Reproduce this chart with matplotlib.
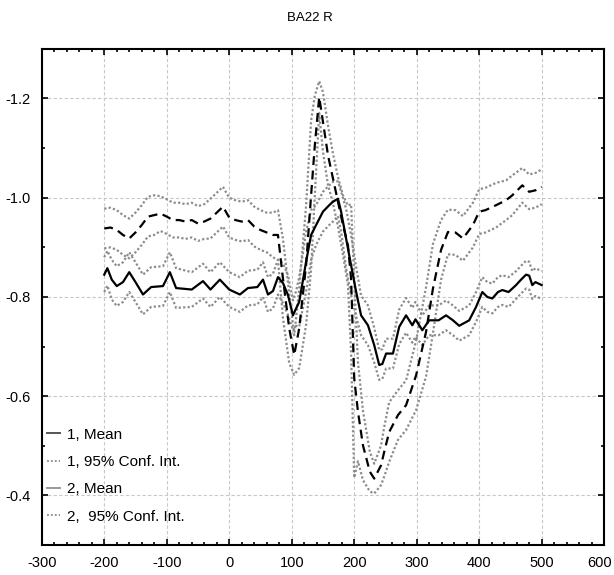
import numpy as np
import matplotlib
matplotlib.use("Agg")
import matplotlib.pyplot as plt
import matplotlib.transforms as mtransforms
from matplotlib.lines import Line2D
from matplotlib.ticker import MultipleLocator

# group 1 (solid): time (ms), mean, half width of 95% CI
x1 = [-200, -195, -188, -180, -170, -160, -150, -138, -125, -106, -95, -85, -60, -42,
      -30, -15, 0, 17, 30, 45, 54, 62, 70, 78, 86, 94, 102, 107, 112, 123, 131, 139,
      150, 160, 166, 174, 179, 187, 195, 203, 211, 222, 232, 240, 245, 251, 262, 272,
      283, 293, 298, 309, 320, 335, 347, 358, 368, 384, 395, 405, 413, 421, 430, 437,
      447, 459, 467, 475, 480, 485, 490, 500]
mean1 = [-0.845, -0.858, -0.835, -0.822, -0.830, -0.850, -0.830, -0.805, -0.820, -0.822,
         -0.850, -0.818, -0.815, -0.832, -0.815, -0.835, -0.815, -0.805, -0.818, -0.820,
         -0.835, -0.805, -0.812, -0.840, -0.828, -0.804, -0.763, -0.777, -0.790, -0.871,
         -0.925, -0.945, -0.972, -0.985, -0.992, -0.998, -0.972, -0.918, -0.864, -0.811,
         -0.763, -0.743, -0.703, -0.663, -0.665, -0.686, -0.686, -0.740, -0.763, -0.743,
         -0.755, -0.733, -0.753, -0.753, -0.763, -0.753, -0.742, -0.753, -0.780, -0.810,
         -0.800, -0.797, -0.810, -0.814, -0.810, -0.824, -0.835, -0.845, -0.843, -0.824,
         -0.830, -0.824]
ci1 = [0.035, 0.035, 0.04, 0.04, 0.04, 0.04, 0.04, 0.04, 0.04, 0.04, 0.04, 0.04, 0.035,
       0.035, 0.035, 0.035, 0.035, 0.035, 0.035, 0.035, 0.035, 0.035, 0.035, 0.035, 0.04,
       0.04, 0.03, 0.035, 0.05, 0.06, 0.05, 0.04, 0.04, 0.04, 0.04, 0.035, 0.04, 0.06,
       0.06, 0.05, 0.04, 0.04, 0.035, 0.03, 0.03, 0.03, 0.03, 0.035, 0.035, 0.035, 0.035,
       0.03, 0.03, 0.03, 0.03, 0.03, 0.03, 0.03, 0.03, 0.03, 0.03, 0.03, 0.03, 0.03,
       0.03, 0.028, 0.028, 0.028, 0.028, 0.028, 0.028, 0.028]

# group 2 (dashed)
x2 = [-200, -190, -180, -170, -160, -150, -140, -130, -120, -110, -100, -90, -80, -70,
      -60, -50, -40, -30, -20, -10, 0, 10, 20, 30, 40, 50, 60, 70, 78, 86, 96, 104, 112,
      123, 131, 137, 144, 150, 158, 166, 174, 182, 190, 195, 200, 206, 214, 225, 232,
      243, 248, 256, 270, 283, 299, 315, 326, 339, 350, 362, 374, 390, 400, 410, 427,
      443, 453, 469, 480, 490, 500]
mean2 = [-0.938, -0.940, -0.935, -0.925, -0.918, -0.930, -0.945, -0.962, -0.965, -0.968,
         -0.962, -0.955, -0.955, -0.952, -0.955, -0.948, -0.952, -0.958, -0.970, -0.982,
         -0.960, -0.955, -0.952, -0.955, -0.942, -0.935, -0.930, -0.925, -0.925, -0.837,
         -0.737, -0.683, -0.737, -0.864, -1.005, -1.106, -1.203, -1.153, -1.086, -1.039,
         -0.992, -0.945, -0.904, -0.837, -0.636, -0.569, -0.501, -0.448, -0.434, -0.461,
         -0.488, -0.528, -0.562, -0.582, -0.642, -0.730, -0.817, -0.895, -0.931, -0.930,
         -0.918, -0.945, -0.972, -0.975, -0.985, -0.995, -1.005, -1.025, -1.012, -1.015,
         -1.022]
ci2 = [0.04, 0.04, 0.04, 0.04, 0.04, 0.04, 0.04, 0.04, 0.04, 0.035, 0.035, 0.035, 0.035,
       0.035, 0.035, 0.035, 0.035, 0.04, 0.04, 0.04, 0.04, 0.04, 0.04, 0.04, 0.04, 0.04,
       0.04, 0.045, 0.05, 0.08, 0.07, 0.04, 0.08, 0.12, 0.15, 0.10, 0.032, 0.06, 0.06,
       0.05, 0.05, 0.06, 0.08, 0.15, 0.2, 0.1, 0.07, 0.04, 0.03, 0.04, 0.05, 0.06, 0.05,
       0.05, 0.07, 0.09, 0.09, 0.06, 0.045, 0.045, 0.045, 0.045, 0.045, 0.045, 0.045,
       0.04, 0.04, 0.035, 0.035, 0.035, 0.035]

title = "BA22 R"
legend_labels = ["1, Mean", "1, 95% Conf. Int.", "2, Mean", "2,  95% Conf. Int."]
xticks = [-300, -200, -100, 0, 100, 200, 300, 400, 500, 600]
yticks = [-1.2, -1.0, -0.8, -0.6, -0.4]

plt.rcParams['font.family'] = ['Liberation Sans', 'DejaVu Sans']
plt.rcParams['font.size'] = 10.5

fig = plt.figure(figsize=(6.14, 5.75), dpi=100)
ax = fig.add_axes([0.068, 0.052, 0.916, 0.863])

x1 = np.array(x1); m1 = np.array(mean1); c1 = np.array(ci1)
x2 = np.array(x2); m2 = np.array(mean2); c2 = np.array(ci2)

ci_style = dict(color='#8c8c8c', lw=1.6, ls=(0, (1, 1)))
ax.plot(x1, m1 - c1, **ci_style)
ax.plot(x1, m1 + c1, **ci_style)
ax.plot(x2, m2 - c2, **ci_style)
ax.plot(x2, m2 + c2, **ci_style)
ax.plot(x1, m1, color='black', lw=1.6)
ax.plot(x2, m2, color='black', lw=1.6, ls=(0, (4, 2.5)))

ax.set_xlim(-300, 600)
ax.set_ylim(-0.3, -1.3)
ax.set_xticks(xticks)
ax.set_xticklabels([str(v) for v in xticks])
ax.set_yticks(yticks)
ax.set_yticklabels(['%.1f' % v for v in yticks])
ax.xaxis.set_minor_locator(MultipleLocator(20))
ax.yaxis.set_minor_locator(MultipleLocator(0.1))
ax.tick_params(which='both', direction='in', top=True, right=True, width=1.2)
ax.tick_params(which='major', length=4, pad=8)
ax.tick_params(which='minor', length=2.5)
ax.grid(True, which='major', color='#c8c8c8', ls=(0, (3, 2)), lw=0.8)
for s in ax.spines.values():
    s.set_linewidth(1.5)

# last x label sits on the right edge, pull it in a little so it is not cut
last = ax.get_xticklabels()[-1]
last.set_transform(last.get_transform() +
                   mtransforms.ScaledTranslation(-5 / 100, 0, fig.dpi_scale_trans))

fig.text(0.505, 0.968, title, ha='center', va='center', fontsize=9.5)

handles = [Line2D([], [], color='#555555', lw=1.4),
           Line2D([], [], color='#999999', lw=1.4, ls=(0, (1, 1))),
           Line2D([], [], color='#999999', lw=1.4),
           Line2D([], [], color='#999999', lw=1.4, ls=(0, (1, 1)))]
ax.legend(handles, legend_labels, loc='lower left', bbox_to_anchor=(-0.001, 0.031),
          borderaxespad=0, frameon=False, handlelength=0.85, handletextpad=0.45,
          labelspacing=0.87, fontsize=11)

plt.savefig('out.png', dpi=100)
